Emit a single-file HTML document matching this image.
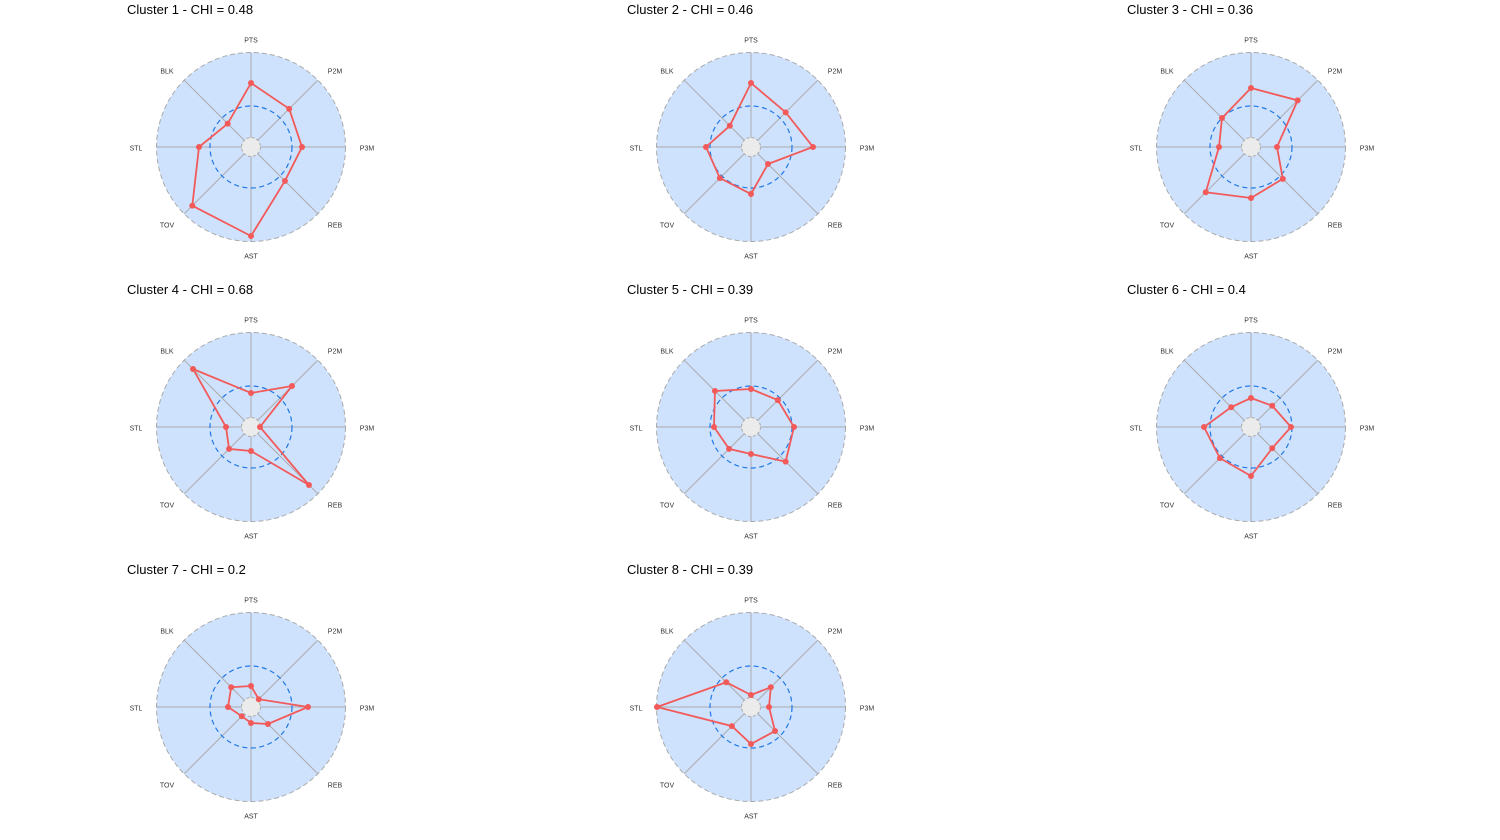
<!DOCTYPE html>
<html><head><meta charset="utf-8"><style>
body{margin:0;background:#fff;width:1500px;height:840px;overflow:hidden}
svg{display:block}
</style></head><body>
<svg id="s" width="1500" height="840" xmlns="http://www.w3.org/2000/svg" font-family="Liberation Sans, sans-serif"></svg>
<script>
const data=[
[64,54,51,48,89,83,52,33,"0.48"],
[64,49,62,24,47,44,45,30,"0.46"],
[59,66,26,45,51,64,32,41,"0.36"],
[34,58,9,82,24,31,25,82,"0.68"],
[38,38,43,49,27,31,37,51,"0.39"],
[29,30,40,30,49,44,47,28,"0.4"],
[21,11,57,24,16,13,23,28,"0.2"],
[12,28,18,34,37,27,94,35,"0.39"]];
const labs=["PTS","P2M","P3M","REB","AST","TOV","STL","BLK"];
const lp=[[0,-107],[84,-76],[116,1],[84,78],[0,109],[-84,78],[-115,1],[-84,-76]];
let h="";
data.forEach((d,i)=>{
 const cx=251+500*(i%3), cy=147+280*Math.floor(i/3);
 h+=`<text x="${cx-124}" y="${cy-133}" font-size="13" fill="#000">Cluster ${i+1} - CHI = ${d[8]}</text>`;
 h+=`<circle cx="${cx}" cy="${cy}" r="94.5" fill="#cfe2fd" stroke="#aaaaaa" stroke-width="1" stroke-dasharray="5,3"/>`;
 for(let k=0;k<8;k++){const a=k*Math.PI/4;const s=Math.sin(a),c=-Math.cos(a);
  h+=`<line x1="${cx+9.5*s}" y1="${cy+9.5*c}" x2="${cx+94.5*s}" y2="${cy+94.5*c}" stroke="#aaaaaa" stroke-width="1"/>`;
  h+=`<text x="${cx+lp[k][0]}" y="${cy+lp[k][1]+2.5}" font-size="7" text-anchor="middle" fill="#333">${labs[k]}</text>`;}
 h+=`<circle cx="${cx}" cy="${cy}" r="9.5" fill="#ebebeb" stroke="#aaaaaa" stroke-width="1" stroke-dasharray="3,2"/>`;
 h+=`<circle cx="${cx}" cy="${cy}" r="41" fill="none" stroke="#1f78e6" stroke-width="1.2" stroke-dasharray="5,3.5"/>`;
 let pts=[];for(let k=0;k<8;k++){const a=k*Math.PI/4;pts.push([cx+d[k]*Math.sin(a),cy-d[k]*Math.cos(a)]);}
 h+=`<polygon points="${pts.map(p=>p.join(',')).join(' ')}" fill="none" stroke="#f25a5a" stroke-width="1.8"/>`;
 pts.forEach(p=>h+=`<circle cx="${p[0]}" cy="${p[1]}" r="3" fill="#f25a5a"/>`);
});
document.getElementById("s").innerHTML=h;
</script>
</body></html>
